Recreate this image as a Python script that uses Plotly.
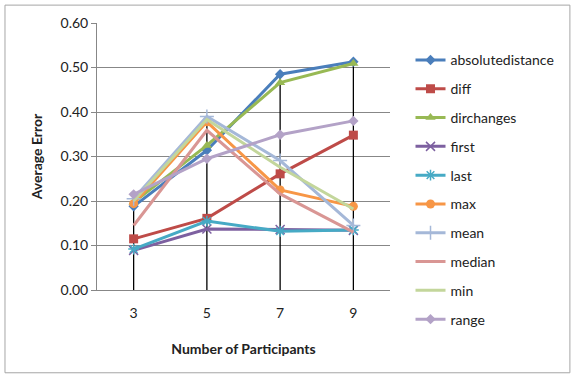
import plotly.graph_objects as go

categories = ["3", "5", "7", "9"]
absolutedistance = [0.188, 0.314, 0.485, 0.513]
diff = [0.115, 0.161, 0.261, 0.348]
dirchanges = [0.197, 0.325, 0.466, 0.509]
first = [0.089, 0.137, 0.136, 0.134]
last = [0.092, 0.155, 0.132, 0.135]
max_ = [0.194, 0.378, 0.225, 0.188]
mean = [0.205, 0.390, 0.291, 0.145]
median = [0.145, 0.359, 0.216, 0.130]
min_ = [0.200, 0.383, 0.276, 0.182]
range_ = [0.215, 0.295, 0.349, 0.380]
y_ticks = [0.0, 0.1, 0.2, 0.3, 0.4, 0.5, 0.6]

series = [
    ("absolutedistance", absolutedistance, "#4A7EBB", "diamond", 8),
    ("diff", diff, "#BE4B48", "square", 9),
    ("dirchanges", dirchanges, "#98B954", "triangle-up", 9),
    ("first", first, "#7D60A0", "x-thin-open", 9),
    ("last", last, "#46AAC5", "asterisk-open", 9),
    ("max", max_, "#F79646", "circle", 9),
    ("mean", mean, "#A5B8D8", "cross-thin-open", 10),
    ("median", median, "#D99694", None, 0),
    ("min", min_, "#C3D69B", None, 0),
    ("range", range_, "#B3A2C7", "diamond", 8),
]

fig = go.Figure()

# drop lines from highest value to axis
all_vals = [s[1] for s in series]
dx, dy = [], []
for i, c in enumerate(categories):
    top = max(v[i] for v in all_vals)
    dx += [c, c, None]
    dy += [0, top, None]
fig.add_trace(go.Scatter(x=dx, y=dy, mode="lines", line=dict(color="black", width=1.3),
                         showlegend=False, hoverinfo="skip"))

for name, vals, color, sym, size in series:
    if sym is None:
        fig.add_trace(go.Scatter(x=categories, y=vals, name=name, mode="lines",
                                 line=dict(color=color, width=3), legendgroup=name))
    else:
        open_sym = sym.endswith("-open")
        fig.add_trace(go.Scatter(
            x=categories, y=vals, name=name, mode="lines+markers",
            line=dict(color=color, width=3), legendgroup=name,
            marker=dict(symbol=sym, size=size, color=color,
                        line=dict(color=color, width=1.5 if open_sym else 0))))

fig.update_layout(
    width=575, height=377,
    margin=dict(l=97, r=185, t=23, b=87),
    paper_bgcolor="white", plot_bgcolor="white",
    font=dict(family="Lato, Liberation Sans, sans-serif", size=14, color="#222222"),
    xaxis=dict(type="category", range=[-0.5, 3.5], showgrid=False,
               showline=True, linecolor="#878787", linewidth=1,
               ticks="", tickfont=dict(size=14), ticklabelstandoff=10,
               title=dict(text="<b>Number of Participants</b>", font=dict(size=14), standoff=24)),
    yaxis=dict(range=[0, 0.6], tickvals=y_ticks, tickformat=".2f",
               showgrid=True, gridcolor="#878787", gridwidth=1,
               showline=True, linecolor="#878787", linewidth=1,
               ticks="outside", ticklen=5, tickcolor="#878787",
               zeroline=False, tickfont=dict(size=14),
               title=dict(text="<b>Average Error</b>", font=dict(size=14), standoff=14)),
    legend=dict(x=1.07, y=0.92, xanchor="left", yanchor="top",
                tracegroupgap=7.6, font=dict(size=14), bgcolor="rgba(0,0,0,0)",
                itemwidth=30, maxheight=377),
    shapes=[dict(type="rect", xref="paper", yref="paper",
                 x0=-0.314, x1=1.614, y0=-0.31, y1=1.067,
                 line=dict(color="#A6A6A6", width=1))],
)

fig.write_html("out.html")
